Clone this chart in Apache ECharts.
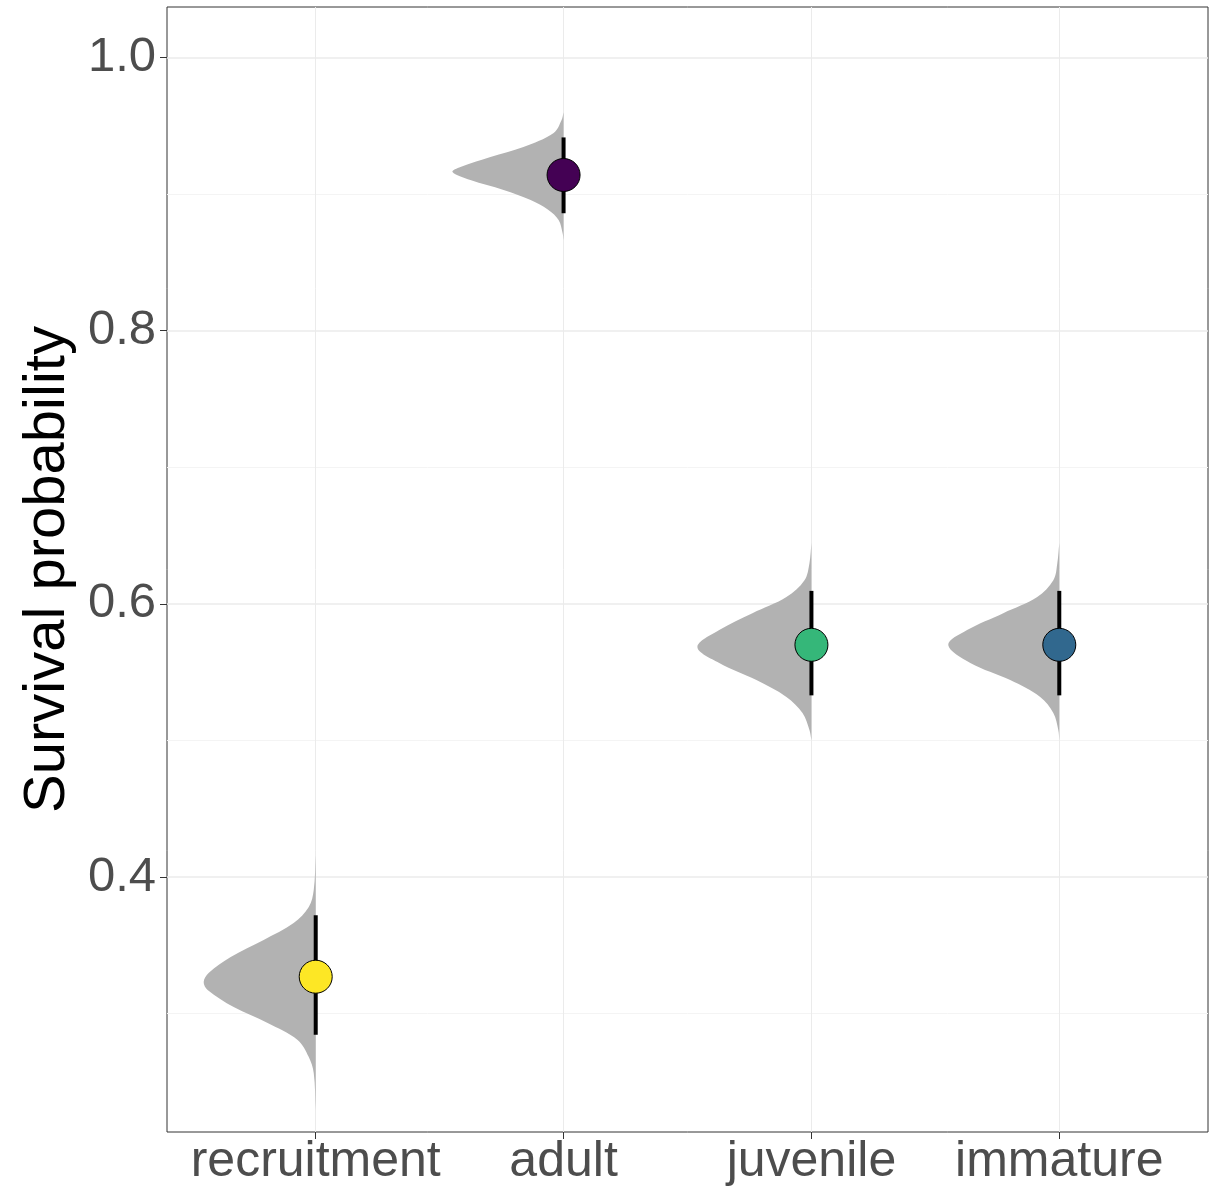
<!DOCTYPE html>
<html>
<head>
<meta charset="utf-8">
<script src="https://cdn.jsdelivr.net/npm/echarts@6/dist/echarts.min.js"></script>
<style>
  html, body { margin: 0; padding: 0; background: #ffffff; }
  #chart { width: 1223px; height: 1187px; }
</style>
</head>
<body>
<div id="chart"></div>
<script>
// ---- data ----
var categories = ['recruitment', 'adult', 'juvenile', 'immature'];
var categoryPos = [1, 2, 3, 4];
var pointColors = ['#FDE725', '#440154', '#35B779', '#31688E'];

var estimates = [0.327, 0.914, 0.570, 0.570];
var lower = [0.2845, 0.886, 0.533, 0.533];
var upper = [0.372, 0.9415, 0.6095, 0.6095];

// half-violin outlines: [value, half-width in category units]
var violinRecruitment = [[0.416, 0.0], [0.3905, 0.008], [0.378, 0.028], [0.3663, 0.089], [0.3539, 0.21],
  [0.3414, 0.343], [0.3297, 0.432], [0.3231, 0.452], [0.3173, 0.436], [0.3048, 0.331], [0.2931, 0.194],
  [0.2807, 0.073], [0.2682, 0.028], [0.2565, 0.008], [0.2294, 0.0]];
var violinAdult = [[0.960, 0.0], [0.9542, 0.008], [0.9447, 0.04], [0.9345, 0.162], [0.9271, 0.295],
  [0.9198, 0.416], [0.9162, 0.448], [0.9103, 0.376], [0.903, 0.242], [0.8957, 0.133], [0.8884, 0.061],
  [0.881, 0.02], [0.8715, 0.004], [0.8664, 0.0]];
var violinJuvenile = [[0.6445, 0.0], [0.6298, 0.008], [0.6173, 0.028], [0.6050, 0.101], [0.5932, 0.238],
  [0.5808, 0.372], [0.5684, 0.46], [0.5567, 0.372], [0.5442, 0.222], [0.5318, 0.101], [0.5200, 0.036],
  [0.5076, 0.008], [0.5003, 0.0]];
var violinImmature = [[0.6445, 0.0], [0.6298, 0.008], [0.6173, 0.024], [0.6050, 0.089], [0.5932, 0.226],
  [0.5808, 0.372], [0.5698, 0.448], [0.5567, 0.359], [0.5442, 0.198], [0.5318, 0.077], [0.5200, 0.024],
  [0.5076, 0.004], [0.5003, 0.0]];
var violins = [violinRecruitment, violinAdult, violinJuvenile, violinImmature];

var yTicks = [0.4, 0.6, 0.8, 1.0];
var yMinorTicks = [0.3, 0.5, 0.7, 0.9];
var yTitle = 'Survival probability';

// ---- chart ----
var chart = echarts.init(document.getElementById('chart'), null, { renderer: 'canvas' });

var violinData = categoryPos.map(function (p, i) { return [p, i]; });
var barData = categoryPos.map(function (p, i) { return [p, lower[i], upper[i]]; });
var pointData = categoryPos.map(function (p, i) {
  return { value: [p, estimates[i]], itemStyle: { color: pointColors[i] } };
});

var axisFont = 'Liberation Sans, Arial, sans-serif';

var option = {
  animation: false,
  backgroundColor: '#ffffff',
  grid: {
    left: 167, top: 7, right: 15, bottom: 55,
    show: true, borderColor: '#333333', borderWidth: 1, backgroundColor: 'transparent'
  },
  xAxis: {
    type: 'value', min: 0.4, max: 4.6,
    axisLine: { show: false },
    axisTick: { show: true, length: 7, lineStyle: { color: '#333333', width: 1 }, customValues: categoryPos },
    axisLabel: {
      customValues: categoryPos,
      formatter: function (v) { var i = categoryPos.indexOf(Math.round(v)); return i >= 0 ? categories[i] : ''; },
      color: '#4D4D4D', fontSize: 50, fontFamily: axisFont, margin: 5
    },
    splitLine: { show: true, lineStyle: { color: '#EBEBEB', width: 1 } }
  },
  yAxis: [{
    type: 'value', min: 0.2133, max: 1.037,
    axisLine: { show: false },
    axisTick: { show: true, length: 7, lineStyle: { color: '#333333', width: 1 }, customValues: yTicks },
    axisLabel: {
      customValues: yTicks,
      formatter: function (v) { return v.toFixed(1); },
      color: '#4D4D4D', fontSize: 49, fontFamily: axisFont, margin: 11
    },
    splitLine: { show: true, lineStyle: { color: '#EBEBEB', width: 1.5 } },
    name: yTitle, nameLocation: 'middle', nameRotate: 90, nameGap: 90,
    nameTextStyle: { color: '#000000', fontSize: 58, fontFamily: axisFont }
  }, {
    type: 'value', min: 0.2133, max: 1.037, position: 'left',
    axisLine: { show: false },
    axisTick: { show: false, customValues: yMinorTicks },
    axisLabel: { show: false, customValues: yMinorTicks },
    splitLine: { show: true, lineStyle: { color: '#F4F4F4', width: 1 } }
  }],
  series: [{
    type: 'custom',
    data: violinData,
    z: 2,
    renderItem: function (params, api) {
      var pos = api.value(0);
      var idx = api.value(1);
      var shape = violins[idx];
      var pts = shape.map(function (d) { return api.coord([pos - d[1], d[0]]); });
      var top = api.coord([pos, shape[0][0]]);
      var bot = api.coord([pos, shape[shape.length - 1][0]]);
      pts.push(bot); pts.push(top);
      return {
        type: 'polygon',
        shape: { points: pts, smooth: 0.35 },
        style: { fill: '#B2B2B2', stroke: null }
      };
    }
  }, {
    type: 'custom',
    data: barData,
    z: 3,
    renderItem: function (params, api) {
      var a = api.coord([api.value(0), api.value(1)]);
      var b = api.coord([api.value(0), api.value(2)]);
      return {
        type: 'line',
        shape: { x1: a[0], y1: a[1], x2: b[0], y2: b[1] },
        style: { stroke: '#000000', lineWidth: 4 }
      };
    }
  }, {
    type: 'scatter',
    data: pointData,
    symbol: 'circle',
    symbolSize: 33,
    z: 4,
    itemStyle: { borderColor: '#000000', borderWidth: 1, opacity: 1 }
  }]
};
chart.setOption(option);
</script>
</body>
</html>
